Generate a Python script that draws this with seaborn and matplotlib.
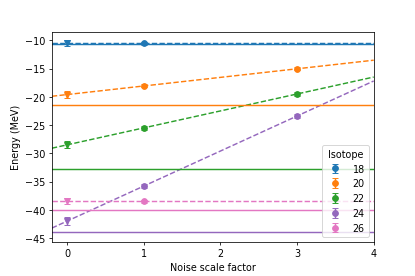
import numpy as np
import pandas as pd
import matplotlib
matplotlib.use('Agg')
import matplotlib.pyplot as plt
import seaborn as sns

# isotopes and energies (MeV)
isotopes = [18, 20, 22, 24, 26]
exact = [-10.65, -21.4, -32.75, -43.9, -40.05]
# zero-noise extrapolation (intercept of the fit) and its error
e0 = [-10.45, -19.6, -28.5, -42.0, -38.5]
e0_err = [0.5, 0.7, 0.6, 0.7, 0.5]
slope = [0.0, 1.52, 3.0, 6.2, 0.0]
# measured values at noise scale 1 and 3
e1 = [-10.5, -18.05, -25.5, -35.8, -38.5]
e1_err = [0.25, 0.3, 0.3, 0.35, 0.25]
e3 = [np.nan, -15.0, -19.5, -23.4, np.nan]
e3_err = [np.nan, 0.3, 0.35, 0.35, np.nan]

tab = sns.color_palette('tab10')
colors = [tab[0], tab[1], tab[2], tab[4], tab[6]]
xlim = (-0.2, 4)

fig = plt.figure(figsize=(6, 4), dpi=69.2)
ax = fig.add_subplot(111)
fig.subplots_adjust(left=0.125, right=0.9, top=0.88, bottom=0.124)

# dashed fit lines
xs = np.array(xlim)
rows = []
for iso, b, m in zip(isotopes, e0, slope):
    for x in xs:
        rows.append({'x': x, 'E': b + m * x, 'iso': str(iso)})
fits = pd.DataFrame(rows)
sns.lineplot(data=fits, x='x', y='E', hue='iso', palette=colors, ax=ax,
             linestyle='--', linewidth=1.5, legend=False)

handles = []
for i, iso in enumerate(isotopes):
    c = colors[i]
    ax.axhline(exact[i], color=c, linewidth=1.5)
    ax.errorbar([0], [e0[i]], yerr=[e0_err[i]], fmt='v', color=c,
                markersize=7, capsize=3)
    h = ax.errorbar([1], [e1[i]], yerr=[e1_err[i]], fmt='o', color=c,
                    markersize=6, capsize=3, label=str(iso))
    if not np.isnan(e3[i]):
        ax.errorbar([3], [e3[i]], yerr=[e3_err[i]], fmt='o', color=c,
                    markersize=6, capsize=3)
    handles.append(h)

ax.set_xlim(*xlim)
ax.set_ylim(-45.65, -8.6)
ax.set_xticks([0, 1, 2, 3, 4])
ax.set_yticks([-45, -40, -35, -30, -25, -20, -15, -10])
ax.set_xlabel('Noise scale factor')
ax.set_ylabel('Energy (MeV)')
ax.legend(handles=handles, title='Isotope', loc='lower right')

fig.savefig('out.png', dpi=69.2)
